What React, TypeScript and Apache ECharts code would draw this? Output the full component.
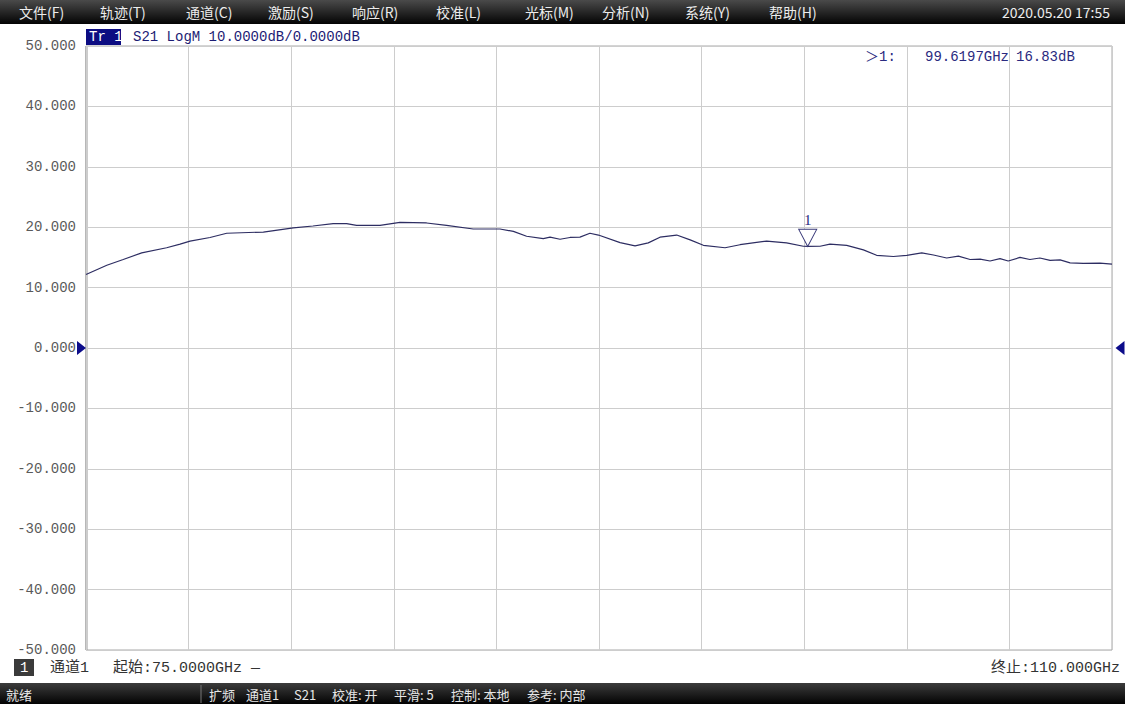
import React, { useEffect, useRef } from "react";
import * as echarts from "echarts";

// ---- data ----
const freqGHz = [75.00, 75.71, 76.27, 76.90, 77.75, 78.21, 78.55, 79.23, 79.80, 81.05, 82.07, 82.74, 83.43, 83.89, 84.23, 85.03, 85.71, 86.62, 87.30, 88.21, 89.12, 89.58, 90.03, 90.60, 90.83, 91.17, 91.51, 91.85, 92.19, 92.48, 93.22, 93.73, 94.18, 94.58, 95.15, 95.61, 96.06, 96.80, 97.31, 98.22, 98.90, 99.47, 99.62, 100.04, 100.38, 100.95, 101.52, 101.97, 102.54, 103.00, 103.51, 103.91, 104.36, 104.76, 105.16, 105.50, 105.84, 106.18, 106.46, 106.86, 107.20, 107.54, 107.89, 108.23, 108.57, 109.02, 109.59, 110.00];
const s21dB = [12.17, 13.7, 14.65, 15.75, 16.6, 17.2, 17.7, 18.3, 19.0, 19.2, 19.9, 20.2, 20.6, 20.6, 20.3, 20.3, 20.8, 20.7, 20.3, 19.7, 19.7, 19.3, 18.5, 18.1, 18.35, 18.0, 18.3, 18.35, 19.0, 18.7, 17.45, 16.9, 17.4, 18.35, 18.7, 17.9, 17.0, 16.6, 17.1, 17.7, 17.4, 16.85, 16.83, 16.85, 17.2, 17.0, 16.25, 15.35, 15.15, 15.35, 15.75, 15.4, 14.9, 15.2, 14.65, 14.7, 14.4, 14.8, 14.4, 15.0, 14.65, 14.9, 14.5, 14.6, 14.1, 14.0, 14.05, 13.9];

const markerFreq = 99.6197;
const markerDb = 16.83;
const refLevel = 0;

const startGHz = 75;
const stopGHz = 110;
const yMin = -50;
const yMax = 50;
const yStep = 10;
const xStep = 3.5;

const menuItems = ["文件(F)", "轨迹(T)", "通道(C)", "激励(S)", "响应(R)", "校准(L)", "光标(M)", "分析(N)", "系统(Y)", "帮助(H)"];
const menuX = [19, 100, 186, 268, 352, 436, 525, 602, 685, 769];
const dateText = "2020.05.20 17:55";
const traceTitle = "S21 LogM 10.0000dB/0.0000dB";
const statusItems = ["扩频", "通道1", "S21", "校准: 开", "平滑: 5", "控制: 本地", "参考: 内部"];
const statusX = [209, 246, 294, 332, 394, 451, 527];

const MONO = '"Liberation Mono", "Noto Sans CJK SC", monospace';
const SANS = '"Noto Sans CJK SC", "Noto Sans", sans-serif';

function txt(x: number, y: number, text: string, fill: string, font: string, align = "left") {
  return {
    type: "text",
    x,
    y,
    silent: true,
    style: { text, fill, font, textAlign: align, align, textVerticalAlign: "middle", verticalAlign: "middle" },
  };
}

export default function App() {
  const ref = useRef<HTMLDivElement>(null);
  useEffect(() => {
    document.body.style.margin = "0";
    const chart = echarts.init(ref.current!, undefined, { renderer: "svg" });
    const barGrad = new echarts.graphic.LinearGradient(0, 0, 0, 1, [
      { offset: 0, color: "#4a4a4a" },
      { offset: 1, color: "#030303" },
    ]);
    const barGrad2 = new echarts.graphic.LinearGradient(0, 0, 0, 1, [
      { offset: 0, color: "#3c3c3c" },
      { offset: 1, color: "#020202" },
    ]);
    const graphics: any[] = [
      { type: "rect", shape: { x: 0, y: 0, width: 1125, height: 24 }, style: { fill: barGrad }, silent: true },
      ...menuItems.map((m, i) => txt(menuX[i], 12, m, "#ececec", `14px ${SANS}`)),
      txt(1110, 12, dateText, "#ececec", `14px ${SANS}`, "right"),
      { type: "rect", shape: { x: 86, y: 29, width: 35, height: 16 }, style: { fill: "#0c0c82" }, silent: true },
      txt(89, 37, "Tr 1", "#ffffff", `14px ${MONO}`),
      txt(133, 37, traceTitle, "#1c1c74", `14px ${MONO}`),
      txt(865, 57, "＞1:", "#2a2a80", `14px ${MONO}`),
      txt(925, 57, `${markerFreq.toFixed(4)}GHz`, "#2a2a80", `14px ${MONO}`),
      txt(1016, 57, `${markerDb.toFixed(2)}dB`, "#2a2a80", `14px ${MONO}`),
      { type: "line", shape: { x1: 86.5, y1: 46, x2: 86.5, y2: 650 }, style: { stroke: "#9a9a9a", lineWidth: 2 }, silent: true },
      { type: "rect", shape: { x: 14, y: 659, width: 20, height: 17 }, style: { fill: "#3a3a3a" }, silent: true },
      txt(20, 668, "1", "#ffffff", `14px ${MONO}`),
      txt(50, 668, "通道1", "#333333", `15px ${MONO}`),
      txt(113, 668, `起始:${startGHz.toFixed(4)}GHz —`, "#333333", `15px ${MONO}`),
      txt(1120, 668, `终止:${stopGHz.toFixed(3)}GHz`, "#333333", `15px ${MONO}`, "right"),
      { type: "rect", shape: { x: 0, y: 683, width: 1125, height: 21 }, style: { fill: barGrad2 }, silent: true },
      txt(6, 694, "就绪", "#e6e6e6", `13px ${SANS}`),
      { type: "line", shape: { x1: 201, y1: 685, x2: 201, y2: 703 }, style: { stroke: "#777", lineWidth: 1 }, silent: true },
      ...statusItems.map((s, i) => txt(statusX[i], 694, s, "#e6e6e6", `13px ${SANS}`)),
    ];

    const lineData = freqGHz.map((f, i) => [f, s21dB[i]]);

    chart.setOption({
      animation: false,
      backgroundColor: "#ffffff",
      grid: {
        left: 86,
        right: 13,
        top: 46,
        bottom: 54,
        show: true,
        borderColor: "#a8a8a8",
        borderWidth: 1,
        backgroundColor: "transparent",
      },
      xAxis: {
        type: "value",
        min: startGHz,
        max: stopGHz,
        interval: xStep,
        axisLine: { show: false },
        axisTick: { show: false },
        axisLabel: { show: false },
        splitLine: { show: true, lineStyle: { color: "#cdcdcd", width: 1 } },
      },
      yAxis: {
        type: "value",
        min: yMin,
        max: yMax,
        interval: yStep,
        axisLine: { show: false },
        axisTick: { show: false },
        axisLabel: {
          show: true,
          margin: 10,
          color: "#5a5a5a",
          fontFamily: "Liberation Mono",
          fontSize: 14,
          formatter: (v: number) => v.toFixed(3),
        },
        splitLine: { show: true, lineStyle: { color: "#cdcdcd", width: 1 } },
      },
      graphic: graphics,
      series: [
        {
          type: "line",
          data: lineData,
          showSymbol: false,
          clip: false,
          lineStyle: { color: "#2d2d62", width: 1.2 },
          markPoint: {
            silent: true,
            data: [
              {
                coord: [markerFreq, markerDb],
                symbol: "path://M0,0 L18,0 L9,17 Z",
                symbolSize: [18, 17],
                symbolOffset: [0, -8.5],
                itemStyle: { color: "#ffffff", borderColor: "#3a3a7a", borderWidth: 1 },
                label: {
                  show: true,
                  position: "top",
                  distance: 1,
                  formatter: "1",
                  color: "#2a2a80",
                  fontFamily: "Liberation Serif",
                  fontSize: 15,
                },
              },
              {
                coord: [startGHz, refLevel],
                symbol: "path://M0,0 L10,7 L0,14 Z",
                symbolSize: [9, 14],
                symbolOffset: [-4.5, 0],
                itemStyle: { color: "#0c0c8a" },
                label: { show: false },
              },
              {
                coord: [stopGHz, refLevel],
                symbol: "path://M10,0 L0,7 L10,14 Z",
                symbolSize: [9, 14],
                symbolOffset: [8, 0],
                itemStyle: { color: "#0c0c8a" },
                label: { show: false },
              },
            ],
          },
        },
      ],
    });
    return () => chart.dispose();
  }, []);
  return <div ref={ref} style={{ width: 1125, height: 704 }} />;
}
